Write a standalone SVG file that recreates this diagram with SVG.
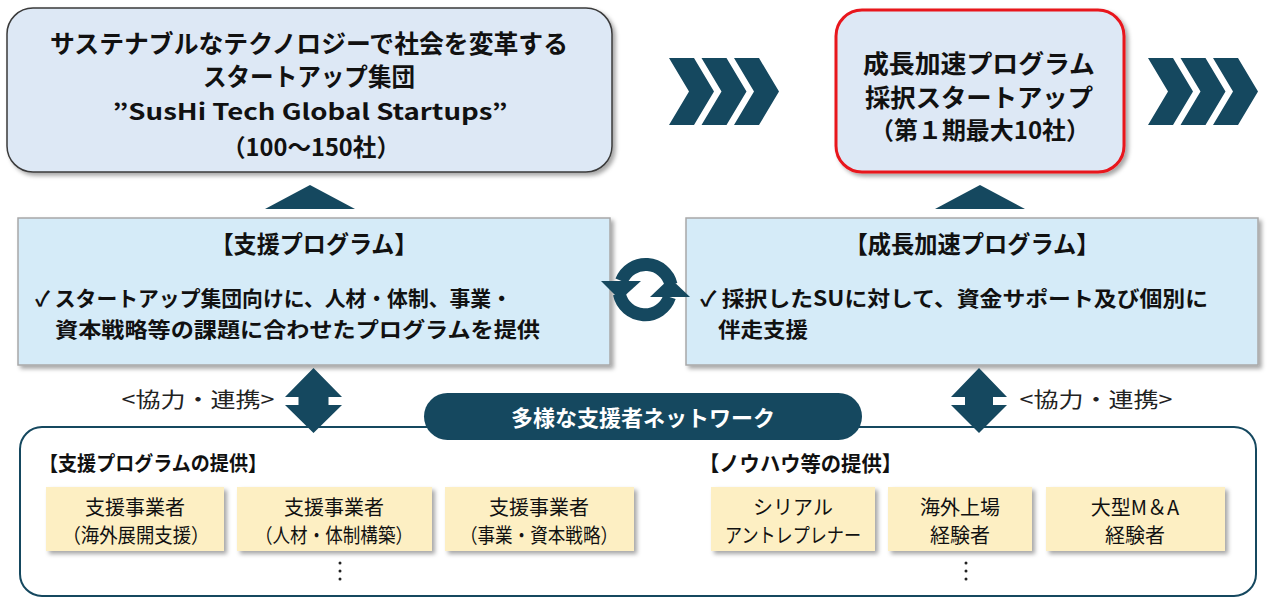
<svg xmlns="http://www.w3.org/2000/svg" width="1271" height="601" viewBox="0 0 1271 601">
<defs>
<style>
text{font-family:"Noto Sans CJK JP","Noto Sans",sans-serif;fill:#111;}
.b{font-weight:bold;}
.c{text-anchor:middle;dominant-baseline:central;}
.l{dominant-baseline:central;}
.dark{fill:#15485f;}
.mid{fill:#d5ebf8;stroke:#a8a8a8;stroke-width:1.5;}
.yel{fill:#fdefc3;}
.t25{font-size:25px;}
.t24{font-size:24px;}
.t22{font-size:22px;}
.t21{font-size:21px;}
.t20{font-size:20px;}
</style>
<filter id="sh" x="-10%" y="-10%" width="130%" height="140%">
<feDropShadow dx="3" dy="3" stdDeviation="2" flood-color="#000" flood-opacity="0.35"/>
</filter>
<polygon id="chev" points="0,58 25,58 45,91.5 25,125 0,125 20,91.5" class="dark"/>
</defs>

<g id="top-group">
<rect x="7" y="8" width="605" height="164" rx="26" fill="#dde8f5" stroke="#3a3a3a" stroke-width="1.5" filter="url(#sh)"/>
<text class="b c t25" x="309" y="42" textLength="518" lengthAdjust="spacingAndGlyphs">サステナブルなテクノロジーで社会を変革する</text>
<text class="b c t25" x="309" y="75" textLength="212" lengthAdjust="spacingAndGlyphs">スタートアップ集団</text>
<text class="b c t22" x="310" y="110" textLength="395" lengthAdjust="spacingAndGlyphs">”SusHi Tech Global Startups”</text>
<text class="b c t24" x="311" y="145" textLength="178" lengthAdjust="spacingAndGlyphs">（100〜150社）</text>
</g>

<g id="top-accel">
<rect x="836" y="10" width="288" height="162" rx="26" fill="#dde8f5" stroke="#e8141c" stroke-width="3" filter="url(#sh)"/>
<text class="b c t25" x="979" y="62" textLength="232" lengthAdjust="spacingAndGlyphs">成長加速プログラム</text>
<text class="b c t25" x="979" y="96" textLength="228" lengthAdjust="spacingAndGlyphs">採択スタートアップ</text>
<text class="b c t24" x="980" y="128" textLength="220" lengthAdjust="spacingAndGlyphs">（第１期最大10社）</text>
</g>

<g id="chevrons-left">
<use href="#chev" x="669"/>
<use href="#chev" x="701.5"/>
<use href="#chev" x="734"/>
</g>
<g id="chevrons-right">
<use href="#chev" x="1148"/>
<use href="#chev" x="1180.5"/>
<use href="#chev" x="1213"/>
</g>

<g id="support-program">
<rect class="mid" x="18" y="218" width="592" height="147" filter="url(#sh)"/>
<text class="b c t24" x="314" y="242" textLength="207" lengthAdjust="spacingAndGlyphs">【支援プログラム】</text>
<text class="b l t21" x="35" y="297" textLength="477" lengthAdjust="spacingAndGlyphs">✓ スタートアップ集団向けに、人材・体制、事業・</text>
<text class="b l t21" x="55" y="328" textLength="485" lengthAdjust="spacingAndGlyphs">資本戦略等の課題に合わせたプログラムを提供</text>
</g>

<g id="accel-program">
<rect class="mid" x="686" y="218" width="572" height="147" filter="url(#sh)"/>
<text class="b c t24" x="972" y="242" textLength="255" lengthAdjust="spacingAndGlyphs">【成長加速プログラム】</text>
<text class="b l t21" x="700" y="297" textLength="508" lengthAdjust="spacingAndGlyphs">✓ 採択したSUに対して、資金サポート及び個別に</text>
<text class="b l t21" x="718" y="328" textLength="90" lengthAdjust="spacingAndGlyphs">伴走支援</text>
</g>

<g id="network">
<rect x="20" y="427" width="1236" height="169" rx="22" fill="#fff" stroke="#15485f" stroke-width="2"/>
<rect x="424" y="393" width="438" height="47" rx="23.5" class="dark"/>
<text class="b c t22" x="643" y="416" style="fill:#fff">多様な支援者ネットワーク</text>
<text class="b l t20" x="39" y="462" textLength="228" lengthAdjust="spacingAndGlyphs">【支援プログラムの提供】</text>
<text class="b l t21" x="699" y="462" textLength="203" lengthAdjust="spacingAndGlyphs">【ノウハウ等の提供】</text>
</g>

<g id="p1"><rect class="yel" x="46" y="487" width="178" height="64" filter="url(#sh)"/>
<text class="c t20" x="135" y="506">支援事業者</text><text class="c t20" x="136" y="534" textLength="147" lengthAdjust="spacingAndGlyphs">（海外展開支援）</text></g>
<g id="p2"><rect class="yel" x="237" y="487" width="195" height="64" filter="url(#sh)"/>
<text class="c t20" x="334" y="506">支援事業者</text><text class="c t20" x="334" y="534" textLength="158" lengthAdjust="spacingAndGlyphs">（人材・体制構築）</text></g>
<g id="p3"><rect class="yel" x="445" y="487" width="189" height="64" filter="url(#sh)"/>
<text class="c t20" x="539" y="506">支援事業者</text><text class="c t20" x="539" y="534" textLength="158" lengthAdjust="spacingAndGlyphs">（事業・資本戦略）</text></g>
<g id="p4"><rect class="yel" x="711" y="487" width="164" height="64" filter="url(#sh)"/>
<text class="c t20" x="793" y="506">シリアル</text><text class="c t20" x="793" y="534" textLength="136" lengthAdjust="spacingAndGlyphs">アントレプレナー</text></g>
<g id="p5"><rect class="yel" x="888" y="487" width="144" height="64" filter="url(#sh)"/>
<text class="c t20" x="960" y="506">海外上場</text><text class="c t20" x="960" y="534">経験者</text></g>
<g id="p6"><rect class="yel" x="1046" y="487" width="179" height="64" filter="url(#sh)"/>
<text class="c t20" x="1135" y="506">大型M＆A</text><text class="c t20" x="1135" y="534">経験者</text></g>

<g id="ellipses">
<circle cx="340" cy="563" r="1.5" fill="#222"/><circle cx="340" cy="571" r="1.5" fill="#222"/><circle cx="340" cy="579" r="1.5" fill="#222"/>
<circle cx="966" cy="563" r="1.5" fill="#222"/><circle cx="966" cy="571" r="1.5" fill="#222"/><circle cx="966" cy="579" r="1.5" fill="#222"/>
</g>

<g id="connectors">
<polygon class="dark" points="310,185 355,209 265,209"/>
<polygon class="dark" points="980,185 1025,209 935,209"/>
<polygon class="dark" points="313.5,368 342,397 328.5,397 328.5,405 342,405 313.5,433 285,405 298.5,405 298.5,397 285,397"/>
<polygon class="dark" points="979,368 1007,397 993,397 993,405 1007,405 979,433 951,405 965,405 965,397 951,397"/>
<text class="c" x="198" y="398" textLength="153" lengthAdjust="spacingAndGlyphs" style="font-size:21px;fill:#222">&lt;協力・連携&gt;</text>
<text class="c" x="1096" y="398" textLength="153" lengthAdjust="spacingAndGlyphs" style="font-size:21px;fill:#222">&lt;協力・連携&gt;</text>
<g id="cycle">
<path d="M671 284.5 A26 26 0 0 0 621.5 281" fill="none" stroke="#15485f" stroke-width="13"/>
<polygon class="dark" points="601,281 641,281 620,300"/>
<path d="M619.4 294 A26 26 0 0 0 669.5 297" fill="none" stroke="#15485f" stroke-width="13"/>
<polygon class="dark" points="650,297 690,297 670,278"/>
</g>
</g>
</svg>
